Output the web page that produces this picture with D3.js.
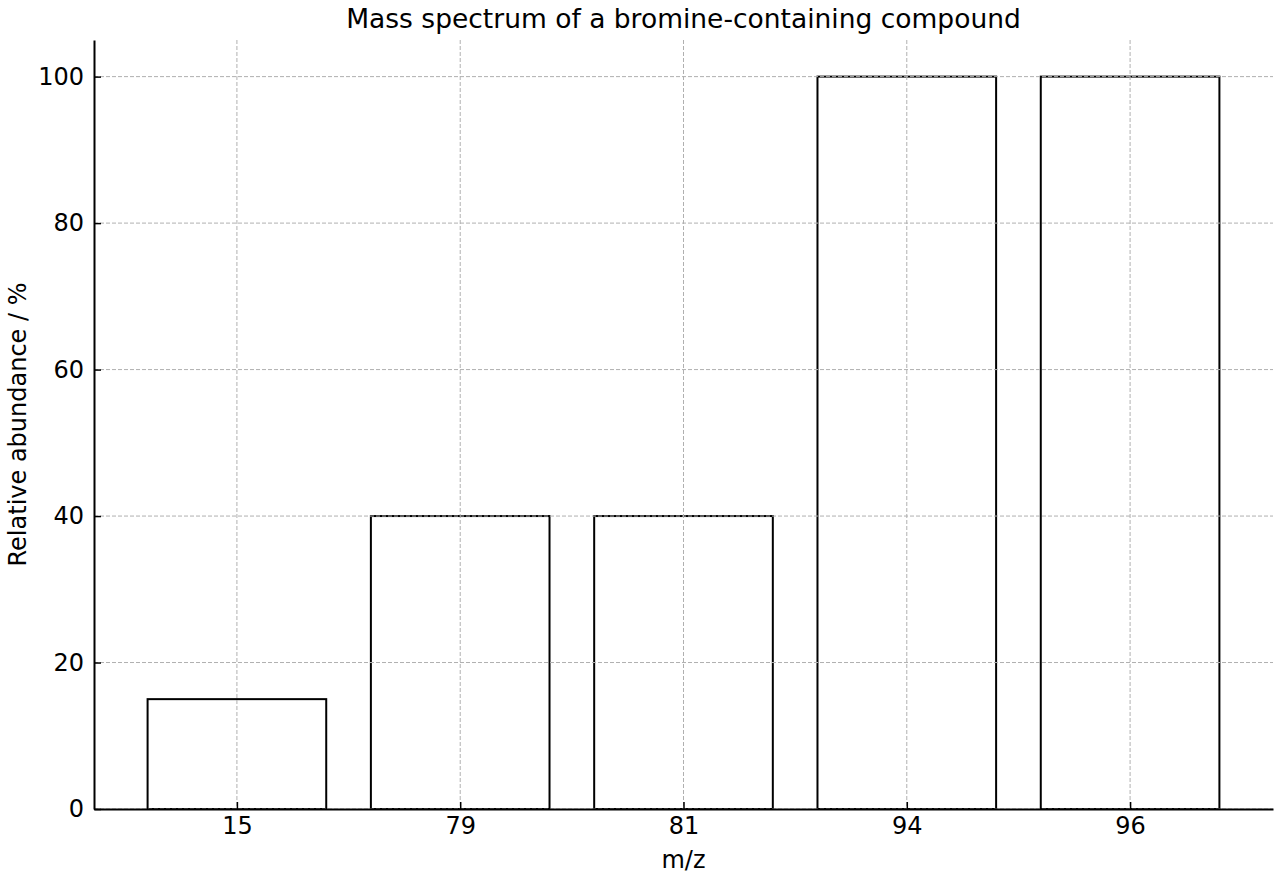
<!DOCTYPE html>
<html>
<head>
<meta charset="utf-8">
<script src="https://cdn.jsdelivr.net/npm/d3@7"></script>
<style>
  body { margin: 0; background: #fff; }
  text { font-family: "DejaVu Sans", sans-serif; fill: #000; }
</style>
</head>
<body>
<div id="container"></div>
<script>
// m/z peaks and their relative abundance
let massLabels = ["15", "79", "81", "94", "96"];
let abundance = [15, 40, 40, 100, 100];
let yTicks = [0, 20, 40, 60, 80, 100];

let margin = {top: 40, right: 7, bottom: 71, left: 94},
    width = 1280 - margin.left - margin.right,
    height = 880 - margin.top - margin.bottom;

let svg = d3.select("#container")
  .append("svg")
    .attr("width", 1280)
    .attr("height", 880);

let graph = svg.append("g")
    .attr("transform", "translate(" + margin.left + "," + margin.top + ")");

// bars sit at 0..n-1, width 0.8, with 5% margins like matplotlib
let n = massLabels.length;
let xScale = d3.scaleLinear()
    .domain([-0.64, n - 1 + 0.64])
    .range([0, width]);

let yScale = d3.scaleLinear()
    .domain([0, 105])
    .range([height, 0]);

// bars (outline only)
graph.append("g").selectAll("rect")
  .data(abundance)
  .enter().append("rect")
    .attr("x", (d, i) => xScale(i - 0.4))
    .attr("width", xScale(0.4) - xScale(-0.4))
    .attr("y", d => yScale(d))
    .attr("height", d => height - yScale(d))
    .attr("fill", "none")
    .attr("stroke", "#000")
    .attr("stroke-width", 2);

// grid drawn over the bars
let gridColor = "#b0b0b0";
graph.append("g").selectAll("line")
  .data(yTicks)
  .enter().append("line")
    .attr("x1", 0).attr("x2", width)
    .attr("y1", d => yScale(d)).attr("y2", d => yScale(d))
    .attr("stroke", gridColor)
    .attr("stroke-width", 1)
    .attr("stroke-dasharray", "4,2");

graph.append("g").selectAll("line")
  .data(massLabels)
  .enter().append("line")
    .attr("x1", (d, i) => xScale(i)).attr("x2", (d, i) => xScale(i))
    .attr("y1", 0).attr("y2", height)
    .attr("stroke", gridColor)
    .attr("stroke-width", 1)
    .attr("stroke-dasharray", "4,2");

// axes with inward ticks
let xAxis = d3.axisBottom(xScale)
    .tickValues(d3.range(n))
    .tickFormat(i => massLabels[i])
    .tickSizeInner(-7)
    .tickSizeOuter(0)
    .tickPadding(8);
let xAxisGroup = graph.append("g").attr("transform", "translate(0," + height + ")");
xAxisGroup.call(xAxis);

let yAxis = d3.axisLeft(yScale)
    .tickValues(yTicks)
    .tickSizeInner(-7)
    .tickSizeOuter(0)
    .tickPadding(10);
let yAxisGroup = graph.append("g");
yAxisGroup.call(yAxis);

[xAxisGroup, yAxisGroup].forEach(g => {
  g.select(".domain").attr("stroke", "#000").attr("stroke-width", 2);
  g.selectAll(".tick line").attr("stroke", "#000").attr("stroke-width", 1.5);
  g.selectAll(".tick text").style("font-size", "24px").style("font-family", "DejaVu Sans");
});

// title and axis labels
svg.append("text")
    .attr("x", margin.left + width / 2)
    .attr("y", 28)
    .attr("text-anchor", "middle")
    .style("font-size", "26.5px")
    .text("Mass spectrum of a bromine-containing compound");

svg.append("text")
    .attr("x", margin.left + width / 2)
    .attr("y", 868)
    .attr("text-anchor", "middle")
    .style("font-size", "24px")
    .text("m/z");

svg.append("text")
    .attr("transform", "translate(26," + (margin.top + height / 2) + ") rotate(-90)")
    .attr("text-anchor", "middle")
    .style("font-size", "24px")
    .text("Relative abundance / %");
</script>
</body>
</html>
